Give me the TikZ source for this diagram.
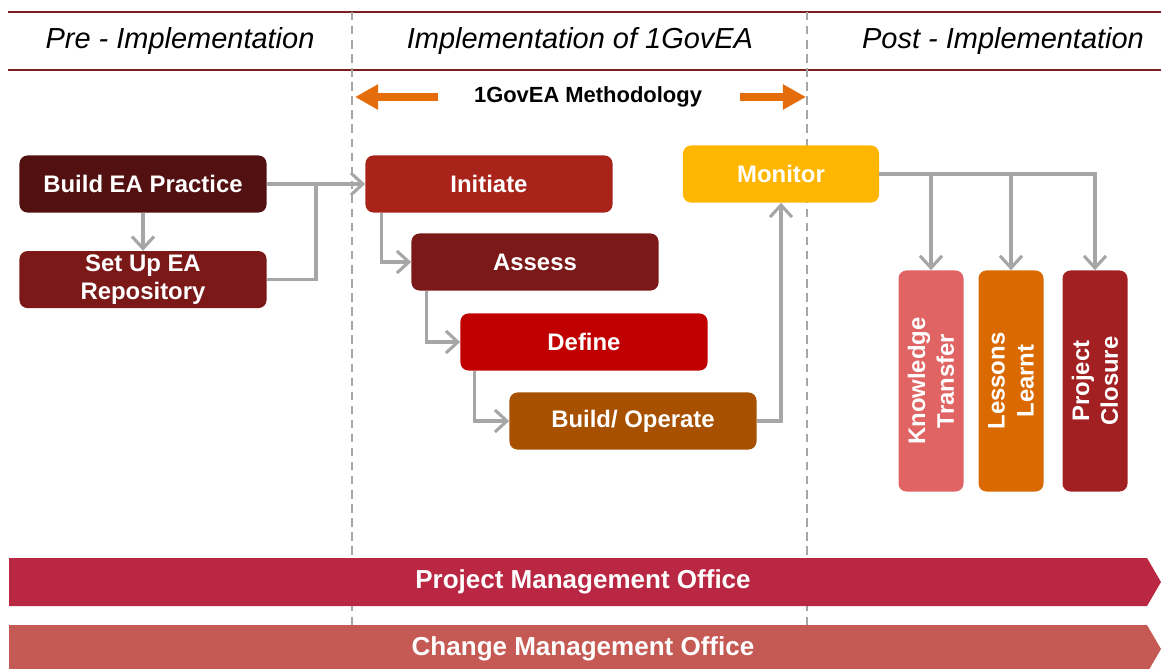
\documentclass[tikz,border=0pt]{standalone}
\usepackage{fontspec}
\setmainfont{Liberation Sans}
\usetikzlibrary{positioning, arrows.meta}
\definecolor{rulered}{HTML}{7B1F1F}
\definecolor{flowgray}{HTML}{A6A6A6}
\definecolor{methorange}{HTML}{E46C0A}
\definecolor{practice}{HTML}{521010}
\definecolor{maroon}{HTML}{7B1818}
\definecolor{initiate}{HTML}{A8231A}
\definecolor{define}{HTML}{C00000}
\definecolor{operate}{HTML}{A65000}
\definecolor{monitor}{HTML}{FFB600}
\definecolor{knowledge}{HTML}{E06464}
\definecolor{lessons}{HTML}{DA6A00}
\definecolor{closure}{HTML}{A32022}
\definecolor{pmo}{HTML}{BA2742}
\definecolor{cmo}{HTML}{C45A53}
\tikzset{phasebox/.style={rounded corners=0.2cm, minimum width=6.175cm, minimum height=1.425cm,
    inner sep=0pt, align=center, text=white, font=\fontsize{17}{20.5}\selectfont\bfseries},
  postbox/.style={phasebox, rotate=90, minimum width=5.525cm, minimum height=1.625cm},
  flow/.style={draw=flowgray, line width=2.2pt, -{Straight Barb[length=0.3cm,width=0.55cm]}},
  header/.style={font=\fontsize{20.6}{24}\selectfont\itshape},
  officetext/.style={inner sep=0pt, text=white, font=\fontsize{18.5}{22}\selectfont\bfseries}}

\begin{document}
\begin{tikzpicture}[x=0.025cm, y=-0.025cm]
    \useasboundingbox (0,0) rectangle (1161,669);

    % phase columns
    \draw[rulered, line width=1.2pt] (8,12) -- (1161,12);
    \draw[rulered, line width=1.2pt] (8,70) -- (1161,70);
    \draw[flowgray, line width=0.9pt, dash pattern=on 6pt off 4pt] (352,12) -- (352,625);
    \draw[flowgray, line width=0.9pt, dash pattern=on 6pt off 4pt] (807,12) -- (807,625);

    \node[header] (pre) at (180,41) {Pre - Implementation};
    \node[header] (impl) at (580,41) {Implementation of 1GovEA};
    \node[header] (post) at (1003,41) {Post - Implementation};

    \node[inner sep=0pt, font=\fontsize{15.6}{18}\selectfont\bfseries] (meth) at (588,97) {1GovEA Methodology};
    \coordinate (mleft) at (355,97);
    \coordinate (mright) at (806,97);
    \draw[methorange, line width=0.2cm, -{Triangle[length=0.58cm,width=0.6cm]}]
      ([xshift=-0.9cm]meth.west) -- (mleft);
    \draw[methorange, line width=0.2cm, -{Triangle[length=0.58cm,width=0.6cm]}]
      ([xshift=0.95cm]meth.east) -- (mright);

    % pre-implementation
    \node[phasebox, fill=practice] (build) at (143,184) {Build EA Practice};
    \node[phasebox, fill=maroon, below=0.95cm of build] (setup) {Set Up EA\\Repository};

    % methodology
    \node[phasebox, fill=initiate] (init) at (489,184) {Initiate};
    \node[phasebox, fill=maroon] (assess) at (535,262) {Assess};
    \node[phasebox, fill=define] (define) at (584,342) {Define};
    \node[phasebox, fill=operate] (operate) at (633,421) {Build/ Operate};
    \node[phasebox, fill=monitor, minimum width=4.9cm] (monitor) at (781,174) {Monitor};

    % post-implementation
    \node[postbox, fill=knowledge] (know) at (931,381) {Knowledge\\Transfer};
    \node[postbox, fill=lessons] (learnt) at (1011,381) {Lessons\\Learnt};
    \node[postbox, fill=closure] (closure) at (1095,381) {Project\\Closure};

    \coordinate (join) at (316,184);

    \draw[flow] (build) -- (setup);
    \draw[flow] (build) -- (init);
    \draw[draw=flowgray, line width=2.2pt] (setup.east) -| (join);

    \draw[flow] ([xshift=0.4cm]init.south west) |- (assess.west);
    \draw[flow] ([xshift=0.375cm]assess.south west) |- (define.west);
    \draw[flow] ([xshift=0.35cm]define.south west) |- (operate.west);
    \draw[flow] (operate.east) -| (monitor.south);

    \draw[flow] (monitor.east) -| (closure.east);
    \draw[flow] (know.east |- monitor.east) -- (know.east);
    \draw[flow] (learnt.east |- monitor.east) -- (learnt.east);

    % offices
    \fill[pmo] (9,558) -- (1147,558) -- (1161,582) -- (1147,606) -- (9,606) -- cycle;
    \fill[cmo] (9,625) -- (1147,625) -- (1161,649) -- (1147,673) -- (9,673) -- cycle;
    \node[officetext] (pmobar) at (583,582) {Project Management Office};
    \node[officetext] (cmobar) at (583,649) {Change Management Office};
\end{tikzpicture}
\end{document}
